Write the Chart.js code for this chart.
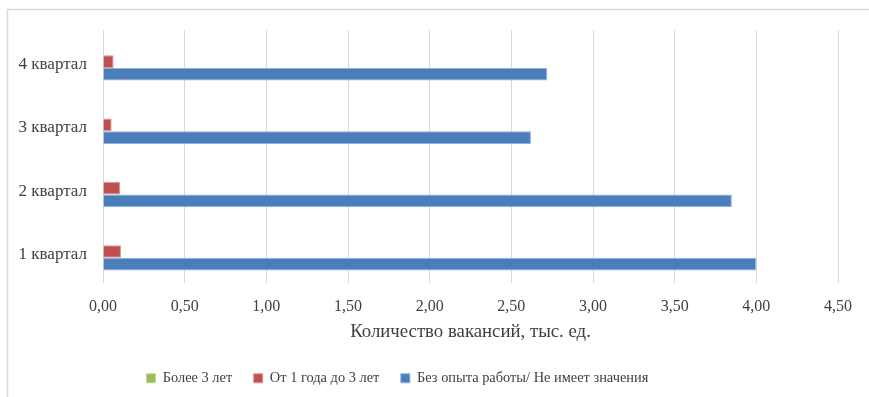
<!DOCTYPE html>
<html>
<head>
<meta charset="utf-8">
<script src="https://cdn.jsdelivr.net/npm/chart.js@4/dist/chart.umd.min.js"></script>
<style>
  html, body { margin: 0; padding: 0; background: #ffffff; }
  #wrap { width: 869px; height: 397px; position: relative; }
</style>
</head>
<body>
<div id="wrap"><canvas id="chart" width="869" height="397"></canvas></div>
<script>
// Vacancies by required work experience, per quarter (thousand units)
const quarters = ['1 квартал', '2 квартал', '3 квартал', '4 квартал'];
const seriesNames = ['Более 3 лет', 'От 1 года до 3 лет', 'Без опыта работы/ Не имеет значения'];
const over3Years = [0, 0, 0, 0];
const from1To3Years = [0.11, 0.105, 0.053, 0.065];
const noExperience = [4.00, 3.85, 2.62, 2.72];
const xTickValues = [0, 0.5, 1, 1.5, 2, 2.5, 3, 3.5, 4, 4.5];
const axisTitle = 'Количество вакансий, тыс. ед.';

const textColor = '#404040';
const serif = "'Liberation Serif', 'Times New Roman', serif";

// light frame around the chart
const framePlugin = {
  id: 'frame',
  beforeDraw(chart) {
    const ctx = chart.ctx;
    ctx.save();
    ctx.strokeStyle = '#d9d9d9';
    ctx.lineWidth = 1.5;
    ctx.strokeRect(7.5, 9.5, chart.width + 20, chart.height + 20);
    ctx.restore();
  }
};

// place the legend row a little left of centre
const legendShift = {
  id: 'legendShift',
  afterLayout(chart) {
    if (chart.legend) {
      chart.legend.left = 125;
    }
  }
};

new Chart(document.getElementById('chart'), {
  type: 'bar',
  data: {
    labels: quarters,
    datasets: [
      { label: seriesNames[0], data: over3Years, backgroundColor: '#9bbb59', borderColor: '#c3d69b', borderWidth: 1 },
      { label: seriesNames[1], data: from1To3Years, backgroundColor: '#c0504d', borderColor: '#d99694', borderWidth: 1 },
      { label: seriesNames[2], data: noExperience, backgroundColor: '#4a7ebb', borderColor: '#8eb0dc', borderWidth: 1 }
    ]
  },
  options: {
    indexAxis: 'y',
    responsive: false,
    animation: false,
    devicePixelRatio: 1,
    categoryPercentage: 0.6,
    barPercentage: 1,
    layout: { padding: { top: 30, right: 31, left: 0, bottom: 1.5 } },
    scales: {
      x: {
        type: 'linear',
        min: 0,
        max: 4.5,
        afterBuildTicks(scale) {
          scale.ticks = xTickValues.map(v => ({ value: v }));
        },
        afterFit(scale) { scale.height = 66.5; },
        ticks: {
          padding: 14,
          color: textColor,
          font: { family: serif, size: 16 },
          callback: v => Number(v).toFixed(2).replace('.', ',')
        },
        grid: { color: '#d9d9d9', lineWidth: 1, drawTicks: false },
        border: { display: false },
        title: {
          display: true,
          text: axisTitle,
          color: textColor,
          font: { family: serif, size: 18.8 },
          padding: { top: 0, bottom: 6 }
        }
      },
      y: {
        type: 'category',
        reverse: true,
        afterFit(scale) { scale.width = 103; },
        ticks: {
          padding: 16,
          labelOffset: 3,
          color: textColor,
          font: { family: serif, size: 17 }
        },
        grid: { display: false, drawTicks: false },
        border: { display: false }
      }
    },
    plugins: {
      legend: {
        position: 'bottom',
        align: 'start',
        labels: {
          boxWidth: 9,
          boxHeight: 9,
          padding: 21.5,
          color: textColor,
          font: { family: serif, size: 14.4 }
        }
      },
      tooltip: { enabled: false }
    }
  },
  plugins: [framePlugin, legendShift]
});
</script>
</body>
</html>
